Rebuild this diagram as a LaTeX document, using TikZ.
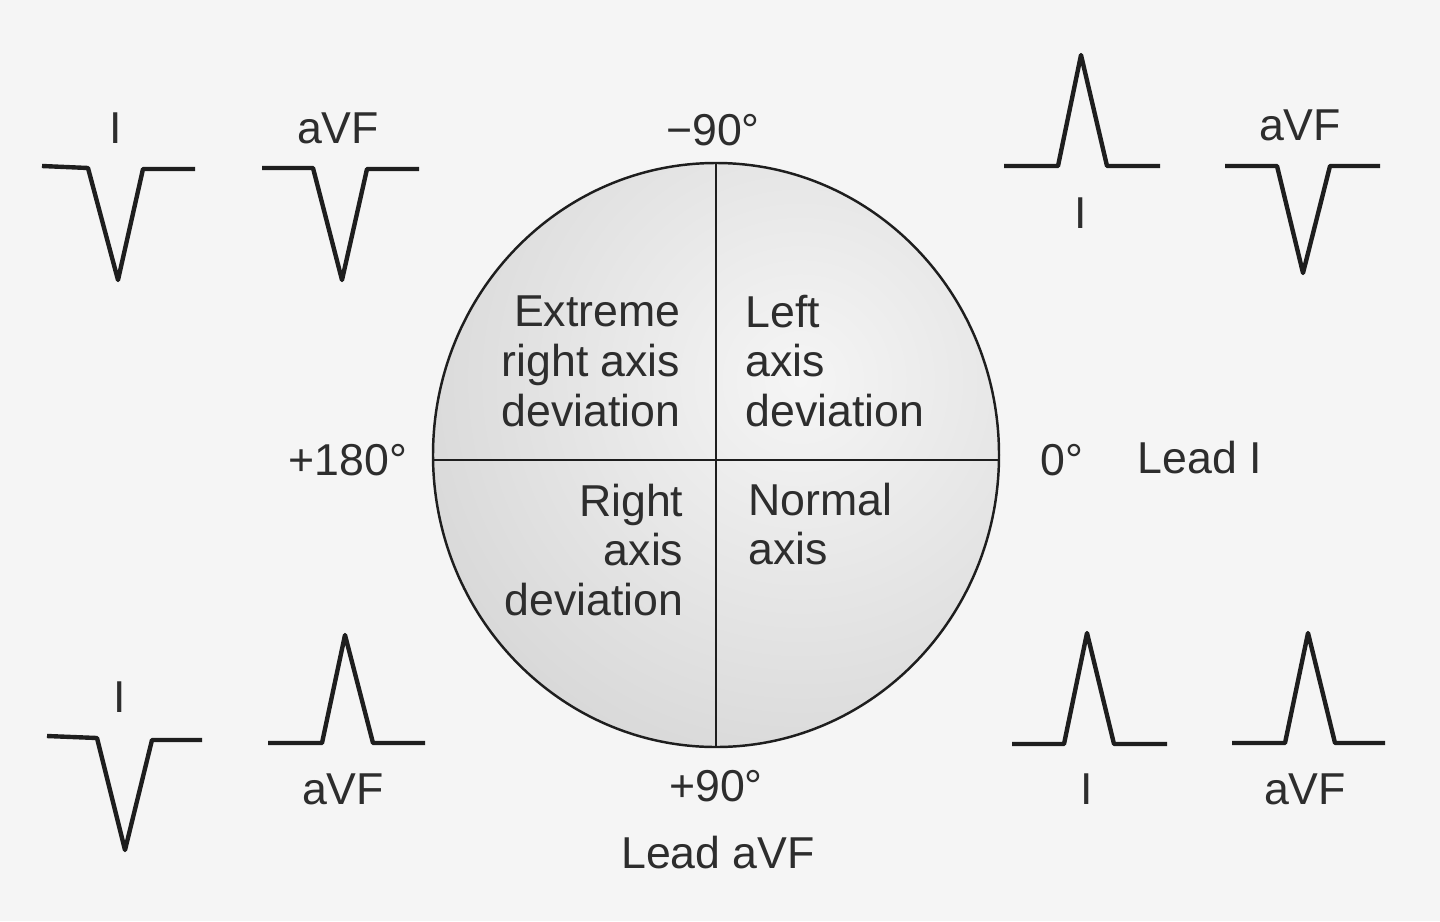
\documentclass[tikz,border=0pt]{standalone}
\usepackage{fontspec}
\setmainfont{Liberation Sans}
\definecolor{bg}{RGB}{245,245,245}
\definecolor{ink}{RGB}{30,30,30}
\definecolor{txt}{RGB}{45,45,45}
\tikzset{
  wave/.style={line width=1.25pt, draw=ink, line join=round},
  lbl/.style={font=\fontsize{12.7}{14.2}\selectfont, text=txt, inner sep=0pt},
  qline/.style={line width=0.8pt, draw=ink},
}
\begin{document}
\begin{tikzpicture}[x=0.01cm,y=-0.01cm]
\useasboundingbox[fill=bg] (0,0) rectangle (1440,921);
% circle with stippled shading
\begin{scope}
  \clip (716,455) ellipse [x radius=283, y radius=292];
  \shade[inner color=bg, outer color=gray!50] (800,380) circle [radius=760];
\end{scope}
\draw[line width=0.7pt, draw=ink] (716,455) ellipse [x radius=283, y radius=292];
\coordinate (top) at (716,163);
\coordinate (bot) at (716,747);
\coordinate (lft) at (433,460);
\coordinate (rgt) at (999,460);
\draw[qline] (top) -- (bot);
\draw[qline] (lft) -- (rgt);
% quadrant texts
\node[lbl, align=right, anchor=east] (era) at (681,361) {Extreme\\right axis\\deviation};
\node[lbl, align=left, anchor=west] (lad) at (745,361) {Left\\axis\\deviation};
\node[lbl, align=right, anchor=east] (rad) at (684,550) {Right\\axis\\deviation};
\node[lbl, align=left, anchor=west] (nax) at (748,524) {Normal\\axis};
% degree labels
\node[lbl] (m90) at (713,130) {−90\textdegree};
\node[lbl] (p180) at (348,460) {+180\textdegree};
\node[lbl] (z0) at (1062,460) {0\textdegree};
\node[lbl] (leadI) at (1200,458) {Lead I};
\node[lbl] (p90) at (716,786) {+90\textdegree};
\node[lbl] (leadaVF) at (718,853) {Lead aVF};
% top-left: I negative, aVF negative
\node[lbl] (tlI) at (116,128) {I};
\draw[wave] (42,166) -- (88,168) -- (118,280) -- (143,169) -- (195,169);
\node[lbl] (tlA) at (338,128) {aVF};
\draw[wave] (262,168) -- (313,168) -- (342,280) -- (367,169) -- (419,169);
% top-right: I positive, aVF negative
\draw[wave] (1004,166) -- (1058,166) -- (1081,55) -- (1107,166) -- (1160,166);
\node[lbl] (trI) at (1081,213) {I};
\node[lbl] (trA) at (1300,125) {aVF};
\draw[wave] (1225,166) -- (1277,166) -- (1303,273) -- (1330,166) -- (1380,166);
% bottom-left: I negative, aVF positive
\node[lbl] (blI) at (120,697) {I};
\draw[wave] (47,736) -- (97,738) -- (125,850) -- (152,740) -- (202,740);
\draw[wave] (268,743) -- (322,743) -- (345,635) -- (373,743) -- (425,743);
\node[lbl] (blA) at (343,789) {aVF};
% bottom-right: I positive, aVF positive
\draw[wave] (1012,744) -- (1064,744) -- (1087,633) -- (1114,744) -- (1167,744);
\node[lbl] (brI) at (1087,789) {I};
\draw[wave] (1232,743) -- (1285,743) -- (1308,633) -- (1335,743) -- (1385,743);
\node[lbl] (brA) at (1305,789) {aVF};
\end{tikzpicture}
\end{document}
